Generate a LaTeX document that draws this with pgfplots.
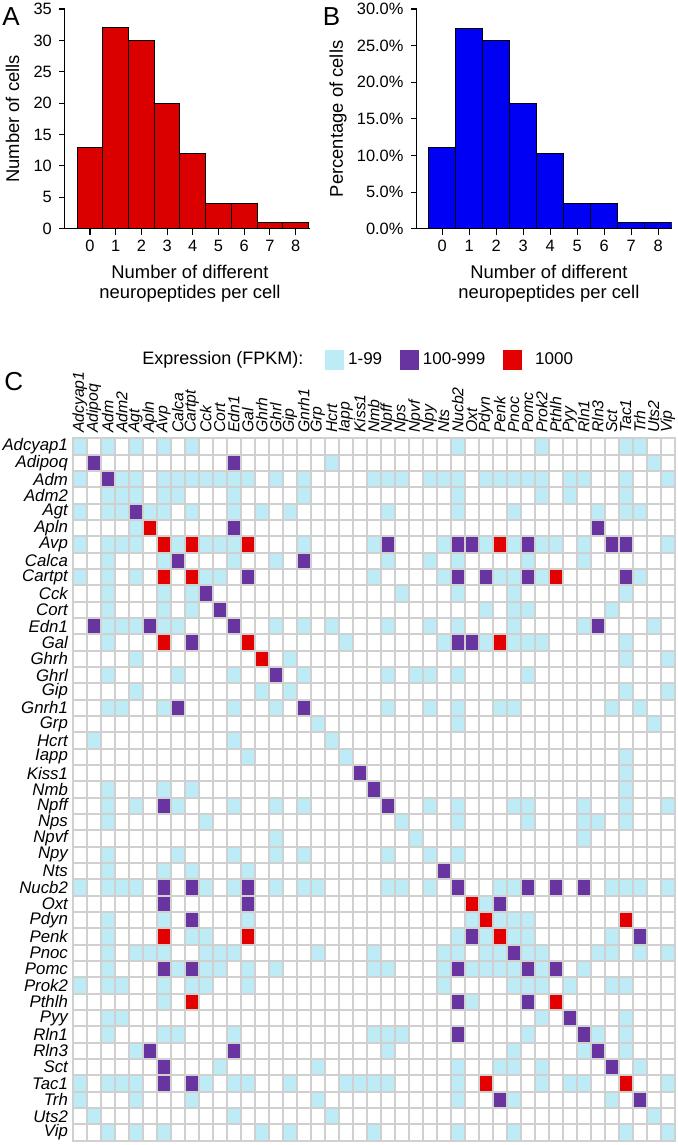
\documentclass[border=0pt]{standalone}
\usepackage{fontspec}
\setmainfont{Liberation Sans}
\usepackage{pgfplots}
\pgfplotsset{compat=1.18}
\definecolor{barred}{RGB}{218,0,0}
\definecolor{barblue}{RGB}{0,0,242}
\definecolor{cellL}{RGB}{190,236,246}
\definecolor{cellP}{RGB}{104,52,160}
\definecolor{cellR}{RGB}{226,0,0}
\definecolor{gridc}{RGB}{208,208,208}
\pgfdeclareplotmark{cellmk}{\pgfpathrectangle{\pgfqpoint{-3.05pt}{-3.6pt}}{\pgfqpoint{6.1pt}{7.2pt}}\pgfusepathqfill}
\pgfplotsset{cellleg/.style={legend image code/.code={\fill[#1] (0pt,-4.75pt) rectangle (9pt,4.75pt);}}}
\begin{document}
\begin{tikzpicture}
\path[use as bounding box] (0,0) rectangle (339pt,-572.5pt);
% ---------------- Panel A
\begin{axis}[
  scale only axis, width=122.4pt, height=109.85pt,
  at={(32.45pt,-114.35pt)}, anchor=south west,
  xmin=-0.975, xmax=8.55, ymin=0, ymax=35, enlargelimits=false,
  axis x line=bottom, axis y line=left,
  axis line style={-, line width=0.55pt},
  ybar, bar width=1,
  xtick={0,...,8}, xticklabels={0,1,2,3,4,5,6,7,8},
  ytick={0,5,...,35}, yticklabels={0,5,10,15,20,25,30,35},
  tick align=outside, major tick length=3pt,
  tick style={black, line width=0.55pt},
  ticklabel style={font=\fontsize{8.2}{9}\selectfont},
  xticklabel style={yshift=1pt},
  xlabel={Number of different\\neuropeptides per cell},
  xlabel style={align=center, font=\fontsize{9.2}{10.2}\selectfont, at={(axis description cs:0.511,-0.25)}, anchor=center},
  ylabel={Number of cells},
  ylabel style={font=\fontsize{9.2}{10.2}\selectfont, at={(axis description cs:-0.214,0.5)}, anchor=center},
]
\addplot[fill=barred, draw=black, line width=0.5pt] coordinates {(0,13)(1,32)(2,30)(3,20)(4,12)(5,4)(6,4)(7,1)(8,1)};
\end{axis}
% ---------------- Panel B
\begin{axis}[
  scale only axis, width=127.55pt, height=109.85pt,
  at={(208.25pt,-114.35pt)}, anchor=south west,
  xmin=-0.95, xmax=8.5, ymin=0, ymax=30, enlargelimits=false,
  axis x line=bottom, axis y line=left,
  axis line style={-, line width=0.55pt},
  ybar, bar width=1,
  xtick={0,...,8}, xticklabels={0,1,2,3,4,5,6,7,8},
  ytick={0,5,...,30}, yticklabels={0.0\%,5.0\%,10.0\%,15.0\%,20.0\%,25.0\%,30.0\%},
  tick align=outside, major tick length=3pt,
  tick style={black, line width=0.55pt},
  ticklabel style={font=\fontsize{8.2}{9}\selectfont},
  xticklabel style={yshift=1pt},
  xlabel={Number of different\\neuropeptides per cell},
  xlabel style={align=center, font=\fontsize{9.2}{10.2}\selectfont, at={(axis description cs:0.519,-0.25)}, anchor=center},
  ylabel={Percentage of cells},
  ylabel style={font=\fontsize{9.2}{10.2}\selectfont, at={(axis description cs:-0.3077,0.5)}, anchor=center},
]
\addplot[fill=barblue, draw=black, line width=0.5pt] coordinates {(0,11.11)(1,27.35)(2,25.64)(3,17.09)(4,10.26)(5,3.42)(6,3.42)(7,0.85)(8,0.85)};
\end{axis}
% ---------------- Panel C
\begin{axis}[
  scale only axis, width=301pt, height=351.2pt,
  at={(36.35pt,-219.15pt)}, anchor=north west,
  xmin=-0.5, xmax=42.5, ymin=-0.5, ymax=42.5, y dir=reverse, enlargelimits=false,
  xtick={0,...,42}, ytick={0,...,42},
  xticklabels={Adcyap1,Adipoq,Adm,Adm2,Agt,Apln,Avp,Calca,Cartpt,Cck,Cort,Edn1,Gal,Ghrh,Ghrl,Gip,Gnrh1,Grp,Hcrt,Iapp,Kiss1,Nmb,Npff,Nps,Npvf,Npy,Nts,Nucb2,Oxt,Pdyn,Penk,Pnoc,Pomc,Prok2,Pthlh,Pyy,Rln1,Rln3,Sct,Tac1,Trh,Uts2,Vip},
  yticklabels={Adcyap1,Adipoq,Adm,Adm2,Agt,Apln,Avp,Calca,Cartpt,Cck,Cort,Edn1,Gal,Ghrh,Ghrl,Gip,Gnrh1,Grp,Hcrt,Iapp,Kiss1,Nmb,Npff,Nps,Npvf,Npy,Nts,Nucb2,Oxt,Pdyn,Penk,Pnoc,Pomc,Prok2,Pthlh,Pyy,Rln1,Rln3,Sct,Tac1,Trh,Uts2,Vip},
  xticklabel pos=upper,
  major tick length=0pt, minor tick length=0pt,
  minor xtick={-0.5,0.5,...,42.5}, minor ytick={-0.5,0.5,...,42.5},
  xminorgrids=true, yminorgrids=true,
  minor grid style={draw=gridc, line width=0.9pt},
  axis line style={draw=gridc, line width=0.9pt},
  xticklabel style={yshift=2.5pt, rotate=90, anchor=west, font=\fontsize{7.9}{8}\selectfont\itshape, inner sep=0pt},
  yticklabel style={xshift=-2.2pt, anchor=east, font=\fontsize{8.4}{8.5}\selectfont\itshape, inner sep=0pt},
  legend columns=3, legend cell align=left,
  legend style={at={(axis description cs:0.419,1.1113)}, anchor=west, draw=none, fill=none, inner sep=0pt,
    font=\fontsize{8.5}{9}\selectfont, /tikz/every even column/.append style={column sep=7pt}},
]
\addplot[only marks, mark=cellmk, color=cellL, cellleg=cellL] coordinates {
(0,0)(2,0)(4,0)(6,0)(8,0)(27,0)(33,0)(39,0)(40,0)
(18,1)(41,1)
(0,2)(3,2)(4,2)(6,2)(7,2)(8,2)(9,2)(10,2)(11,2)(12,2)(14,2)(16,2)(21,2)(22,2)(23,2)(25,2)(26,2)(27,2)(29,2)(30,2)(31,2)(32,2)(33,2)(35,2)(36,2)(39,2)(42,2)
(2,3)(3,3)(4,3)(6,3)(7,3)(11,3)(16,3)(27,3)(33,3)(35,3)(39,3)
(0,4)(2,4)(3,4)(5,4)(6,4)(8,4)(11,4)(13,4)(15,4)(22,4)(27,4)(31,4)(37,4)(39,4)(40,4)
(4,5)
(0,6)(2,6)(3,6)(4,6)(7,6)(9,6)(10,6)(11,6)(16,6)(21,6)(26,6)(29,6)(31,6)(33,6)(34,6)(36,6)(42,6)
(2,7)(6,7)(11,7)(14,7)(22,7)(25,7)(27,7)(32,7)(36,7)
(0,8)(2,8)(4,8)(9,8)(10,8)(21,8)(26,8)(30,8)(31,8)(33,8)(40,8)
(2,9)(6,9)(8,9)(23,9)(27,9)(31,9)(39,9)
(2,10)(6,10)(8,10)(29,10)(31,10)(32,10)(38,10)
(2,11)(3,11)(4,11)(6,11)(7,11)(14,11)(16,11)(18,11)(22,11)(25,11)(27,11)(31,11)(36,11)(41,11)
(2,12)(19,12)(26,12)(29,12)(31,12)(32,12)(33,12)(39,12)
(4,13)(15,13)(39,13)(42,13)
(2,14)(7,14)(11,14)(16,14)(22,14)(24,14)(25,14)(27,14)(32,14)
(4,15)(13,15)(15,15)(39,15)(42,15)
(2,16)(3,16)(6,16)(11,16)(14,16)(22,16)(25,16)(27,16)(30,16)(31,16)(38,16)(40,16)
(17,17)(27,17)(41,17)
(1,18)(11,18)(18,18)
(12,19)(19,19)(39,19)
(39,20)
(2,21)(6,21)(8,21)(39,21)
(2,22)(4,22)(7,22)(11,22)(14,22)(16,22)(25,22)(27,22)(31,22)(32,22)(36,22)(39,22)(42,22)
(2,23)(9,23)(23,23)(27,23)(32,23)(36,23)(37,23)(39,23)
(14,24)(24,24)(36,24)
(2,25)(7,25)(11,25)(14,25)(16,25)(22,25)(25,25)(27,25)
(2,26)(6,26)(8,26)(12,26)
(0,27)(2,27)(3,27)(4,27)(9,27)(11,27)(14,27)(16,27)(17,27)(22,27)(23,27)(25,27)(30,27)(31,27)(38,27)(39,27)(40,27)(42,27)
(29,28)
(2,29)(6,29)(12,29)(28,29)(30,29)(31,29)(32,29)
(2,30)(8,30)(9,30)(27,30)(29,30)(31,30)(32,30)(38,30)
(2,31)(4,31)(5,31)(6,31)(9,31)(10,31)(11,31)(17,31)(21,31)(26,31)(27,31)(29,31)(30,31)(32,31)(33,31)(37,31)(38,31)(40,31)(42,31)
(2,32)(7,32)(9,32)(10,32)(12,32)(14,32)(21,32)(22,32)(26,32)(28,32)(29,32)(30,32)(31,32)(33,32)(36,32)
(0,33)(2,33)(3,33)(6,33)(8,33)(9,33)(12,33)(26,33)(31,33)(32,33)(33,33)(35,33)(38,33)(39,33)
(6,34)(28,34)
(2,35)(3,35)(33,35)(39,35)
(2,36)(6,36)(7,36)(11,36)(21,36)(22,36)(23,36)(32,36)(37,36)(39,36)
(4,37)(22,37)(31,37)(36,37)(39,37)
(10,38)(17,38)(27,38)(30,38)(31,38)(33,38)(40,38)
(0,39)(2,39)(3,39)(4,39)(9,39)(11,39)(12,39)(15,39)(19,39)(20,39)(21,39)(22,39)(27,39)(33,39)(35,39)(36,39)(42,39)
(0,40)(4,40)(8,40)(17,40)(27,40)(31,40)(38,40)
(1,41)(11,41)(18,41)(41,41)
(2,42)(4,42)(6,42)(13,42)(15,42)(21,42)(27,42)(31,42)(39,42)(42,42)
};
\addlegendentry{1-99}
\addplot[only marks, mark=cellmk, color=cellP, cellleg=cellP] coordinates {
(1,1)(11,1)(2,2)(4,4)(11,5)(37,5)
(22,6)(27,6)(28,6)(32,6)(38,6)(39,6)
(7,7)(16,7)
(12,8)(27,8)(29,8)(32,8)(39,8)
(9,9)(10,10)
(1,11)(5,11)(11,11)(37,11)
(8,12)(27,12)(28,12)
(14,14)(7,16)(16,16)(20,20)(21,21)
(6,22)(22,22)(26,26)
(6,27)(8,27)(12,27)(27,27)(32,27)(34,27)(36,27)
(6,28)(12,28)(30,28)
(8,29)(28,30)(40,30)(31,31)
(6,32)(8,32)(27,32)(32,32)(34,32)
(27,34)(32,34)(35,35)
(27,36)(36,36)
(5,37)(11,37)(37,37)
(6,38)(38,38)
(6,39)(8,39)
(30,40)(40,40)
};
\addlegendentry{100-999}
\addplot[only marks, mark=cellmk, color=cellR, cellleg=cellR] coordinates {
(5,5)(6,6)(8,6)(12,6)(30,6)
(6,8)(8,8)(34,8)
(6,12)(12,12)(30,12)
(13,13)(28,28)(29,29)(39,29)
(6,30)(12,30)(30,30)
(8,34)(34,34)
(29,39)(39,39)
};
\addlegendentry{\hspace{4.5pt}1000}
\end{axis}
% panel letters and legend title
\node[anchor=north west, inner sep=0pt, font=\fontsize{13}{14}\selectfont] at (1pt,-3.5pt) {A};
\node[anchor=north west, inner sep=0pt, font=\fontsize{13}{14}\selectfont] at (161.25pt,-3.5pt) {B};
\node[anchor=north west, inner sep=0pt, font=\fontsize{13}{14}\selectfont] at (2pt,-186pt) {C};
\node[anchor=west, inner sep=0pt, font=\fontsize{9}{10}\selectfont] at (71pt,-179.8pt) {Expression (FPKM):};
\end{tikzpicture}
\end{document}
